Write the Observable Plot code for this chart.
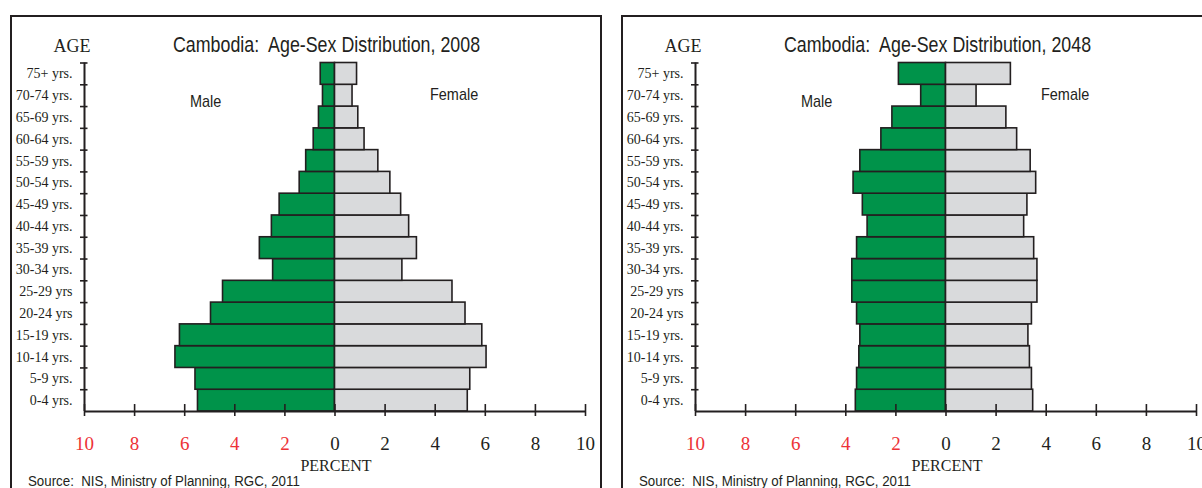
<!DOCTYPE html>
<html>
<head>
<meta charset="utf-8">
<script src="https://cdn.jsdelivr.net/npm/d3@7"></script>
<script src="https://cdn.jsdelivr.net/npm/@observablehq/plot@0.6"></script>
<style>
  html, body { margin: 0; padding: 0; background: #fff; }
  #page { position: relative; width: 1202px; height: 488px; overflow: hidden; background: #fff; }
  .panel { position: absolute; top: 0; width: 604px; height: 488px; }
  .border { position: absolute; left: 10px; top: 15px; width: 592px; height: 520px; border: 2px solid #231f20; box-sizing: border-box; }
  .txt { position: absolute; white-space: pre; line-height: 1; color: #231f20; transform-origin: 0 0; }
  .sans { font-family: "Liberation Sans", Arial, sans-serif; }
  .serif { font-family: "Liberation Serif", "Times New Roman", serif; }
  .plot { position: absolute; left: 0; top: 0; }
</style>
</head>
<body>
<div id="page"></div>
<script>
// ---- data ----
const ageGroups = ["0-4 yrs.", "5-9 yrs.", "10-14 yrs.", "15-19 yrs.", "20-24 yrs", "25-29 yrs",
  "30-34 yrs.", "35-39 yrs.", "40-44 yrs.", "45-49 yrs.", "50-54 yrs.", "55-59 yrs.",
  "60-64 yrs.", "65-69 yrs.", "70-74 yrs.", "75+ yrs."];
const male2008   = [5.47, 5.57, 6.37, 6.19, 4.95, 4.47, 2.47, 3.00, 2.52, 2.21, 1.41, 1.15, 0.85, 0.64, 0.48, 0.57];
const female2008 = [5.30, 5.40, 6.05, 5.88, 5.21, 4.69, 2.69, 3.27, 2.96, 2.64, 2.21, 1.73, 1.18, 0.93, 0.70, 0.88];
const male2048   = [3.60, 3.55, 3.46, 3.42, 3.55, 3.74, 3.74, 3.55, 3.13, 3.32, 3.69, 3.42, 2.58, 2.14, 0.99, 1.88];
const female2048 = [3.48, 3.43, 3.35, 3.29, 3.43, 3.65, 3.65, 3.52, 3.12, 3.25, 3.60, 3.38, 2.84, 2.41, 1.22, 2.59];
const years = [2008, 2048];
const leftTicks = [-10, -8, -6, -4, -2];
const rightTicks = [0, 2, 4, 6, 8, 10];
const titleText = "Cambodia:  Age-Sex Distribution, ";
const sourceText = "Source:  NIS, Ministry of Planning, RGC, 2011";

const GREEN = "#00934a", GRAY = "#d9dadc", DARK = "#231f20", RED = "#ed3237";

const page = document.getElementById("page");
const series = [[male2008, female2008], [male2048, female2048]];
const offsets = [0, 611];

years.forEach((year, k) => {
  const [male, female] = series[k];
  const rows = ageGroups.map((label, i) => ({i, label, male: male[i], female: female[i]}));
  const panel = document.createElement("div");
  panel.className = "panel";
  panel.style.left = offsets[k] + "px";
  panel.innerHTML = `
    <div class="border"></div>
    <div class="txt sans" style="left:173px;top:34px;font-size:22px;transform:scaleX(0.81)">${titleText}${year}</div>
    <div class="txt serif" style="left:42px;top:37px;width:60px;text-align:center;font-size:18px">AGE</div>
    <div class="txt sans" style="left:190px;top:93px;font-size:17px;transform:scaleX(0.85)">Male</div>
    <div class="txt sans" style="left:430px;top:86px;font-size:17px;transform:scaleX(0.85)">Female</div>
    <div class="txt serif" style="left:286px;top:458px;width:100px;text-align:center;font-size:16px">PERCENT</div>
    <div class="txt sans" style="left:28px;top:474px;font-size:14px;transform:scaleX(0.95)">${sourceText}</div>`;
  const chart = Plot.plot({
    width: 604, height: 488,
    marginLeft: 84, marginRight: 19, marginTop: 62, marginBottom: 77,
    x: {domain: [-10, 10], range: [84, 585], axis: null},
    y: {domain: [0, 16], range: [411, 62.5], axis: null},
    style: {background: "transparent", overflow: "visible", color: DARK},
    marks: [
      Plot.rect(rows, {x1: 0, x2: d => -d.male, y1: d => d.i, y2: d => d.i + 1, fill: GREEN, stroke: DARK, strokeWidth: 1.6}),
      Plot.rect(rows, {x1: 0, x2: d => d.female, y1: d => d.i, y2: d => d.i + 1, fill: GRAY, stroke: DARK, strokeWidth: 1.6}),
      Plot.ruleX([-10], {y1: 0, y2: 16, stroke: DARK, strokeWidth: 2}),
      Plot.ruleY([0], {x1: -10, x2: 10, stroke: DARK, strokeWidth: 2}),
      Plot.ruleY(d3.range(1, 17), {x1: -10.16, x2: -9.86, stroke: DARK, strokeWidth: 1.6}),
      Plot.ruleX(leftTicks.concat(rightTicks), {y1: -0.23, y2: 0.32, stroke: DARK, strokeWidth: 1.6}),
      Plot.axisY(rows.map(d => d.i + 0.5), {anchor: "left", tickSize: 0, tickPadding: 12,
        tickFormat: d => ageGroups[Math.floor(d)], fontSize: 14, fontFamily: "Liberation Serif, serif", fill: DARK}),
      Plot.axisX(leftTicks, {anchor: "bottom", tickSize: 0, tickPadding: 25, tickFormat: d => Math.abs(d),
        fontSize: 19, fontFamily: "Liberation Serif, serif", fill: RED}),
      Plot.axisX(rightTicks, {anchor: "bottom", tickSize: 0, tickPadding: 25, tickFormat: d => Math.abs(d),
        fontSize: 19, fontFamily: "Liberation Serif, serif", fill: DARK})
    ]
  });
  chart.classList.add("plot");
  panel.appendChild(chart);
  page.appendChild(panel);
});
</script>
</body>
</html>
